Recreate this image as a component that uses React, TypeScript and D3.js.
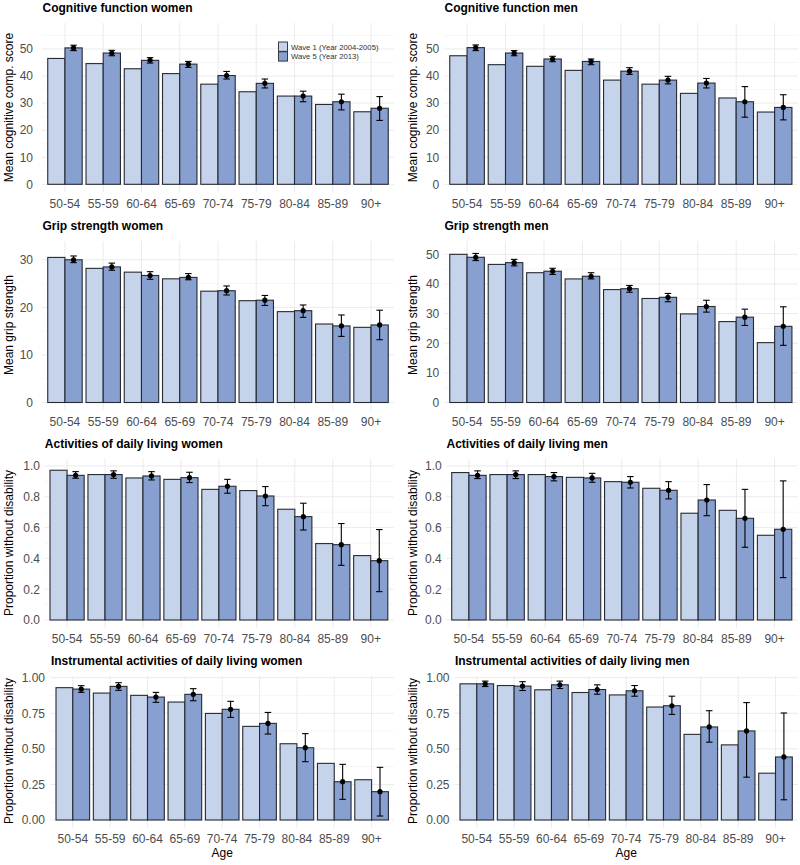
import React from "react";
import * as d3 from "d3";

const categories = ["50-54", "55-59", "60-64", "65-69", "70-74", "75-79", "80-84", "85-89", "90+"];
const waves = ["Wave 1 (Year 2004-2005)", "Wave 5 (Year 2013)"];

const cogWomenW1 = [46.5, 44.6, 42.7, 40.9, 37.0, 34.2, 32.6, 29.5, 26.8];
const cogWomenW5 = [50.4, 48.5, 45.8, 44.4, 40.2, 37.3, 32.6, 30.5, 28.1];
const cogWomenLo = [49.4, 47.5, 44.8, 43.2, 38.9, 35.6, 30.5, 27.5, 23.6];
const cogWomenHi = [51.4, 49.5, 46.8, 45.4, 41.7, 38.9, 34.4, 33.3, 32.4];

const cogMenW1 = [47.5, 44.2, 43.6, 42.1, 38.5, 37.0, 33.6, 31.9, 26.7];
const cogMenW5 = [50.5, 48.5, 46.3, 45.4, 41.8, 38.5, 37.4, 30.5, 28.4];
const cogMenLo = [49.4, 47.5, 45.3, 44.2, 40.6, 37.1, 35.6, 24.8, 23.8];
const cogMenHi = [51.5, 49.4, 47.3, 46.3, 43.1, 39.9, 39.1, 36.1, 33.1];

const gripWomenW1 = [30.5, 28.2, 27.4, 26.0, 23.4, 21.4, 19.1, 16.5, 15.8];
const gripWomenW5 = [30.0, 28.5, 26.7, 26.3, 23.5, 21.5, 19.3, 16.1, 16.3];
const gripWomenLo = [29.4, 27.8, 25.9, 25.8, 22.6, 20.4, 17.9, 13.9, 13.2];
const gripWomenHi = [30.8, 29.3, 27.5, 27.1, 24.5, 22.5, 20.5, 18.4, 19.4];

const gripMenW1 = [50.0, 46.6, 43.8, 41.7, 38.1, 35.1, 29.9, 27.3, 20.2];
const gripMenW5 = [49.0, 47.2, 44.3, 42.6, 38.4, 35.5, 32.4, 28.8, 25.7];
const gripMenLo = [47.9, 46.1, 43.2, 41.7, 37.2, 34.0, 30.5, 26.0, 19.3];
const gripMenHi = [50.3, 48.3, 45.3, 43.8, 39.5, 36.8, 34.5, 31.5, 32.3];

const adlWomenW1 = [0.972, 0.944, 0.922, 0.913, 0.848, 0.840, 0.719, 0.496, 0.418];
const adlWomenW5 = [0.939, 0.944, 0.935, 0.924, 0.868, 0.805, 0.671, 0.489, 0.385];
const adlWomenLo = [0.920, 0.920, 0.909, 0.892, 0.823, 0.742, 0.584, 0.355, 0.184];
const adlWomenHi = [0.963, 0.968, 0.963, 0.959, 0.913, 0.866, 0.758, 0.626, 0.587];

const adlMenW1 = [0.957, 0.944, 0.944, 0.926, 0.898, 0.855, 0.693, 0.712, 0.550];
const adlMenW5 = [0.939, 0.944, 0.931, 0.922, 0.894, 0.842, 0.779, 0.660, 0.589];
const adlMenLo = [0.918, 0.918, 0.903, 0.894, 0.857, 0.786, 0.677, 0.472, 0.275];
const adlMenHi = [0.968, 0.968, 0.957, 0.952, 0.931, 0.898, 0.879, 0.848, 0.903];

const iadlWomenW1 = [0.930, 0.892, 0.876, 0.829, 0.749, 0.658, 0.536, 0.398, 0.283];
const iadlWomenW5 = [0.920, 0.939, 0.864, 0.883, 0.778, 0.679, 0.508, 0.269, 0.199];
const iadlWomenLo = [0.897, 0.911, 0.827, 0.838, 0.721, 0.604, 0.410, 0.145, 0.028];
const iadlWomenHi = [0.944, 0.965, 0.897, 0.923, 0.834, 0.756, 0.607, 0.391, 0.370];

const iadlMenW1 = [0.957, 0.945, 0.915, 0.896, 0.879, 0.794, 0.602, 0.528, 0.329];
const iadlMenW5 = [0.957, 0.941, 0.950, 0.917, 0.908, 0.803, 0.654, 0.626, 0.443];
const iadlMenLo = [0.938, 0.910, 0.924, 0.884, 0.870, 0.742, 0.547, 0.301, 0.142];
const iadlMenHi = [0.976, 0.972, 0.976, 0.950, 0.945, 0.870, 0.768, 0.825, 0.752];

const cogTicks = [0, 10, 20, 30, 40, 50];
const gripWomenTicks = [0, 10, 20, 30];
const gripMenTicks = [0, 10, 20, 30, 40, 50];
const adlTicks = [0, 0.2, 0.4, 0.6, 0.8, 1.0];
const iadlTicks = [0, 0.25, 0.5, 0.75, 1.0];

const FONT = "'Liberation Sans', Arial, Helvetica, sans-serif";
const LIGHT = "#c6d4eb";
const DARK = "#87a0d0";
const OUTLINE = "#262a33";

type PanelSpec = {
  title: string;
  yTitle: string;
  w1: number[];
  w5: number[];
  lo: number[];
  hi: number[];
  ticks: number[];
  fmt: (v: number) => string;
  x0: number;
  x1: number;
  top: number;
  zero: number;
  yMax: number;
  labelRight: number;
  yTitleX: number;
  yTitleY: number;
  titleY: number;
  xLabelY: number;
  legend?: boolean;
  ageLabel?: boolean;
};

const f0 = (v: number) => d3.format("d")(v);
const f1 = (v: number) => d3.format(".1f")(v);
const f2 = (v: number) => d3.format(".2f")(v);

const panels: PanelSpec[] = [
  { title: "Cognitive function women", yTitle: "Mean cognitive comp. score", w1: cogWomenW1, w5: cogWomenW5, lo: cogWomenLo, hi: cogWomenHi, ticks: cogTicks, fmt: f0,
    x0: 42, x1: 394, top: 23, zero: 184.3, yMax: 59.6, labelRight: 33, yTitleX: 13, yTitleY: 107.5, titleY: 12.3, xLabelY: 207.5, legend: true },
  { title: "Cognitive function men", yTitle: "Mean cognitive comp. score", w1: cogMenW1, w5: cogMenW5, lo: cogMenLo, hi: cogMenHi, ticks: cogTicks, fmt: f0,
    x0: 444, x1: 797.7, top: 23, zero: 184.3, yMax: 59.6, labelRight: 439.3, yTitleX: 417, yTitleY: 107.5, titleY: 12.3, xLabelY: 207.5 },
  { title: "Grip strength women", yTitle: "Mean grip strength", w1: gripWomenW1, w5: gripWomenW5, lo: gripWomenLo, hi: gripWomenHi, ticks: gripWomenTicks, fmt: f0,
    x0: 42, x1: 394, top: 241, zero: 402.5, yMax: 33.95, labelRight: 33, yTitleX: 13, yTitleY: 325, titleY: 230, xLabelY: 425.5 },
  { title: "Grip strength men", yTitle: "Mean grip strength", w1: gripMenW1, w5: gripMenW5, lo: gripMenLo, hi: gripMenHi, ticks: gripMenTicks, fmt: f0,
    x0: 444, x1: 797.7, top: 241, zero: 402.5, yMax: 54.5, labelRight: 439.3, yTitleX: 417, yTitleY: 325, titleY: 230, xLabelY: 425.5 },
  { title: "Activities of daily living women", yTitle: "Proportion without disability", w1: adlWomenW1, w5: adlWomenW5, lo: adlWomenLo, hi: adlWomenHi, ticks: adlTicks, fmt: f1,
    x0: 44.3, x1: 393.5, top: 458.7, zero: 620, yMax: 1.047, labelRight: 40, yTitleX: 13, yTitleY: 543, titleY: 447.7, xLabelY: 643 },
  { title: "Activities of daily living men", yTitle: "Proportion without disability", w1: adlMenW1, w5: adlMenW5, lo: adlMenLo, hi: adlMenHi, ticks: adlTicks, fmt: f1,
    x0: 446, x1: 797.5, top: 458.7, zero: 620, yMax: 1.047, labelRight: 441.7, yTitleX: 417, yTitleY: 543, titleY: 447.7, xLabelY: 643 },
  { title: "Instrumental activities of daily living women", yTitle: "Proportion without disability", w1: iadlWomenW1, w5: iadlWomenW5, lo: iadlWomenLo, hi: iadlWomenHi, ticks: iadlTicks, fmt: f2,
    x0: 50.4, x1: 394, top: 676, zero: 820, yMax: 1.012, labelRight: 45, yTitleX: 13, yTitleY: 751, titleY: 665, xLabelY: 842.5, ageLabel: true },
  { title: "Instrumental activities of daily living men", yTitle: "Proportion without disability", w1: iadlMenW1, w5: iadlMenW5, lo: iadlMenLo, hi: iadlMenHi, ticks: iadlTicks, fmt: f2,
    x0: 454.4, x1: 797.9, top: 676, zero: 820, yMax: 1.012, labelRight: 449.5, yTitleX: 417, yTitleY: 751, titleY: 665, xLabelY: 842.5, ageLabel: true },
];

function Panel({ p }: { p: PanelSpec }) {
  const pxPerUnit = (p.zero - p.top) / p.yMax;
  const bottom = p.zero + 8;
  const yMin = -(bottom - p.zero) / pxPerUnit;
  const y = d3.scaleLinear().domain([yMin, p.yMax]).range([bottom, p.top]);
  const x = d3.scaleBand<string>().domain(categories).range([p.x0, p.x1]).paddingInner(0.1).paddingOuter(0.15);
  const xi = d3.scaleBand<string>().domain(waves).range([0, x.bandwidth()]);
  const bw = xi.bandwidth();
  const minor: number[] = [];
  for (let i = 0; i < p.ticks.length; i++) {
    const step = p.ticks[1] - p.ticks[0];
    const m = p.ticks[i] + step / 2;
    if (m <= p.yMax) minor.push(m);
  }
  const capW = 6.5;
  return (
    <g>
      {minor.map((m) => (
        <line key={"mi" + m} x1={p.x0} x2={p.x1} y1={y(m)} y2={y(m)} stroke="#f2f2f2" strokeWidth={0.7} />
      ))}
      {p.ticks.map((t) => (
        <line key={"ma" + t} x1={p.x0} x2={p.x1} y1={y(t)} y2={y(t)} stroke="#ebebeb" strokeWidth={1} />
      ))}
      {categories.map((c) => (
        <line key={"v" + c} x1={(x(c) as number) + x.bandwidth() / 2} x2={(x(c) as number) + x.bandwidth() / 2} y1={p.top} y2={bottom} stroke="#ebebeb" strokeWidth={1} />
      ))}
      {categories.map((c, i) => (
        <g key={"b" + c}>
          <rect x={(x(c) as number) + (xi(waves[0]) as number)} y={y(p.w1[i])} width={bw} height={y(0) - y(p.w1[i])} fill={LIGHT} stroke={OUTLINE} strokeWidth={1.1} />
          <rect x={(x(c) as number) + (xi(waves[1]) as number)} y={y(p.w5[i])} width={bw} height={y(0) - y(p.w5[i])} fill={DARK} stroke={OUTLINE} strokeWidth={1.1} />
        </g>
      ))}
      {categories.map((c, i) => {
        const cx = (x(c) as number) + (xi(waves[1]) as number) + bw / 2;
        return (
          <g key={"e" + c}>
            <line x1={cx} x2={cx} y1={y(p.hi[i])} y2={y(p.lo[i])} stroke="#000" strokeWidth={1.1} />
            <line x1={cx - capW / 2} x2={cx + capW / 2} y1={y(p.hi[i])} y2={y(p.hi[i])} stroke="#000" strokeWidth={1.1} />
            <line x1={cx - capW / 2} x2={cx + capW / 2} y1={y(p.lo[i])} y2={y(p.lo[i])} stroke="#000" strokeWidth={1.1} />
            <circle cx={cx} cy={y(p.w5[i])} r={2.6} fill="#000" />
          </g>
        );
      })}
      {p.ticks.map((t) => (
        <text key={"yl" + t} x={p.labelRight} y={y(t)} dy="0.36em" textAnchor="end" fontSize={12} fill="#4d4d4d" fontFamily={FONT}>
          {p.fmt(t)}
        </text>
      ))}
      {categories.map((c) => (
        <text key={"xl" + c} x={(x(c) as number) + x.bandwidth() / 2} y={p.xLabelY} textAnchor="middle" fontSize={12} fill="#4d4d4d" fontFamily={FONT}>
          {c}
        </text>
      ))}
      <text x={p.x0 + 0.5} y={p.titleY} fontSize={12} fontWeight="bold" fill="#000" fontFamily={FONT}>
        {p.title}
      </text>
      <text transform={`translate(${p.yTitleX},${p.yTitleY}) rotate(-90)`} textAnchor="middle" fontSize={12} fill="#000" fontFamily={FONT}>
        {p.yTitle}
      </text>
      {p.ageLabel && (
        <text x={(p.x0 + p.x1) / 2} y={856.5} textAnchor="middle" fontSize={12} fill="#000" fontFamily={FONT}>
          Age
        </text>
      )}
      {p.legend && (
        <g>
          {waves.map((w, i) => (
            <g key={w}>
              <rect x={278.5} y={42 + i * 9.8} width={9} height={9.3} fill={i === 0 ? LIGHT : DARK} stroke={OUTLINE} strokeWidth={0.9} />
              <text x={291} y={42 + i * 9.8 + 4.8} dy="0.36em" fontSize={7.7} fill="#333" fontFamily={FONT}>
                {w}
              </text>
            </g>
          ))}
        </g>
      )}
    </g>
  );
}

export default function App() {
  return (
    <svg width={800} height={865} style={{ position: "absolute", left: 0, top: 0, display: "block", background: "#fff" }}>
      <rect x={0} y={0} width={800} height={865} fill="#fff" />
      {panels.map((p) => (
        <Panel key={p.title} p={p} />
      ))}
    </svg>
  );
}
